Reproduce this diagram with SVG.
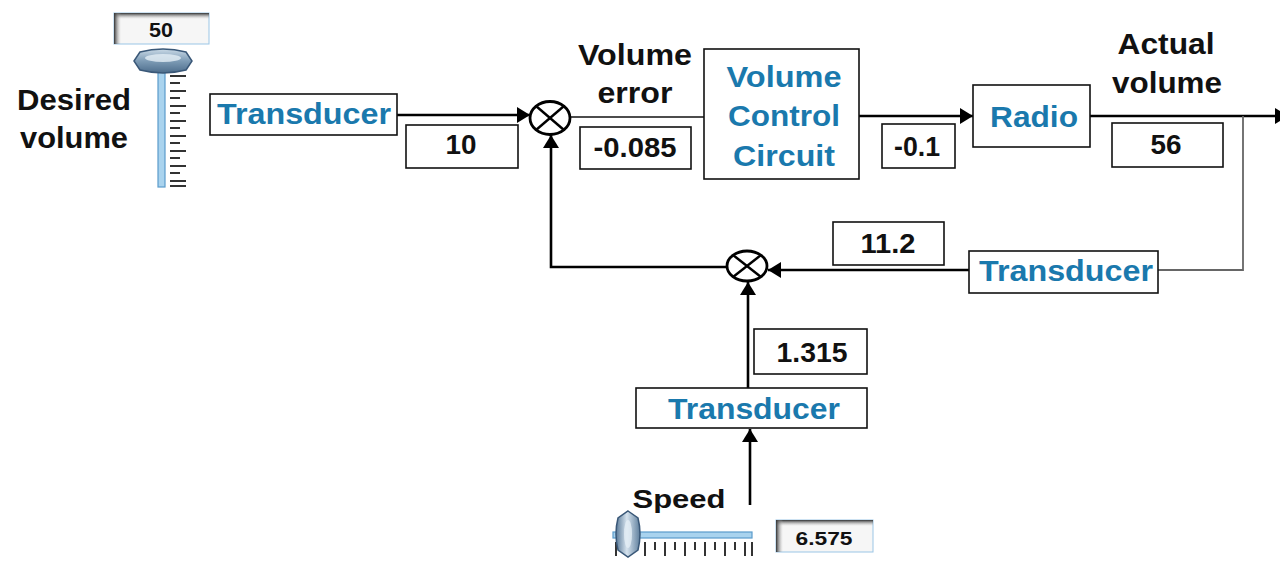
<svg xmlns="http://www.w3.org/2000/svg" width="1280" height="561" viewBox="0 0 1280 561">
<defs>
<style>
.box{fill:#fff;stroke:#111;stroke-width:1.6}
.lbl{font-family:"Liberation Sans",Arial,sans-serif;font-weight:bold;font-size:29px;fill:#1a79ad;text-anchor:middle}
.cap{font-family:"Liberation Sans",Arial,sans-serif;font-weight:bold;font-size:29px;fill:#111;text-anchor:middle}
.num{font-family:"Liberation Sans",Arial,sans-serif;font-weight:bold;font-size:27px;fill:#111;text-anchor:middle}
.sm{font-family:"Liberation Sans",Arial,sans-serif;font-weight:bold;font-size:21px;fill:#111;text-anchor:middle}
.wire{fill:none;stroke:#000;stroke-width:2.6}
.thin{fill:none;stroke:#111;stroke-width:1.6}
.gray{fill:none;stroke:#666;stroke-width:1.8}
.sum{fill:#fff;stroke:#000;stroke-width:2.8}
.tick{stroke:#333;stroke-width:2}
</style>
<marker id="ah" viewBox="0 0 13 16" refX="13" refY="8" markerWidth="13" markerHeight="16" markerUnits="userSpaceOnUse" orient="auto">
<path d="M0,0 L13,8 L0,16 Z" fill="#000"/>
</marker>
<linearGradient id="knobH" x1="0" y1="0" x2="0" y2="1">
<stop offset="0" stop-color="#c9d9e6"/>
<stop offset="0.5" stop-color="#7d9bb5"/>
<stop offset="1" stop-color="#4d6d8c"/>
</linearGradient>
<linearGradient id="knobV" x1="0" y1="0" x2="1" y2="0">
<stop offset="0" stop-color="#5a7a98"/>
<stop offset="0.45" stop-color="#d6e3ee"/>
<stop offset="1" stop-color="#5f7f9d"/>
</linearGradient>
<linearGradient id="shadeT" x1="0" y1="0" x2="0" y2="1">
<stop offset="0" stop-color="#333"/>
<stop offset="1" stop-color="#bbb" stop-opacity="0"/>
</linearGradient>
<linearGradient id="shadeL" x1="0" y1="0" x2="1" y2="0">
<stop offset="0" stop-color="#333"/>
<stop offset="1" stop-color="#bbb" stop-opacity="0"/>
</linearGradient>
</defs>
<rect width="1280" height="561" fill="#fff"/>

<g id="connectors">
<line class="wire" x1="397" y1="115" x2="530" y2="115" marker-end="url(#ah)"/>
<line class="thin" x1="570" y1="117" x2="704" y2="117"/>
<line class="wire" x1="859" y1="116" x2="973" y2="116" marker-end="url(#ah)"/>
<line class="wire" x1="1090" y1="116" x2="1288" y2="116" marker-end="url(#ah)"/>
<polyline class="gray" points="1243,116 1243,270 1158,270"/>
<line class="wire" x1="969" y1="270" x2="768" y2="270" marker-end="url(#ah)"/>
<polyline class="wire" points="727,267 551,267 551,135" marker-end="url(#ah)"/>
<line class="wire" x1="748" y1="388" x2="748" y2="282" marker-end="url(#ah)"/>
<line class="wire" x1="750" y1="505" x2="750" y2="429" marker-end="url(#ah)"/>
</g>

<g id="desired-volume-slider">
<rect x="114" y="13" width="95" height="31" fill="#f6f6f6" stroke="#9bc6e6" stroke-width="1"/>
<rect x="114" y="13" width="95" height="6" fill="url(#shadeT)"/>
<rect x="114" y="13" width="7" height="31" fill="url(#shadeL)"/>
<text class="sm" x="161" y="37" textLength="24" lengthAdjust="spacingAndGlyphs">50</text>
<rect x="158" y="68" width="7" height="119" fill="#a9d3ee" stroke="#5b9ccb" stroke-width="1.2"/>
<g>
<line class="tick" x1="170" y1="76" x2="186" y2="76"/>
<line class="tick" x1="170" y1="83" x2="180" y2="83"/>
<line class="tick" x1="170" y1="91" x2="186" y2="91"/>
<line class="tick" x1="170" y1="98" x2="180" y2="98"/>
<line class="tick" x1="170" y1="106" x2="186" y2="106"/>
<line class="tick" x1="170" y1="113" x2="180" y2="113"/>
<line class="tick" x1="170" y1="121" x2="186" y2="121"/>
<line class="tick" x1="170" y1="128" x2="180" y2="128"/>
<line class="tick" x1="170" y1="136" x2="186" y2="136"/>
<line class="tick" x1="170" y1="143" x2="180" y2="143"/>
<line class="tick" x1="170" y1="151" x2="186" y2="151"/>
<line class="tick" x1="170" y1="158" x2="180" y2="158"/>
<line class="tick" x1="170" y1="166" x2="186" y2="166"/>
<line class="tick" x1="170" y1="173" x2="180" y2="173"/>
<line class="tick" x1="170" y1="181" x2="186" y2="181"/>
<line class="tick" x1="170" y1="186" x2="186" y2="186"/>
</g>
<path d="M134,61 L140,52 Q163,46 186,52 L192,61 L186,70 Q163,76 140,70 Z" fill="url(#knobH)" stroke="#3a5878" stroke-width="1.5"/>
<ellipse cx="163" cy="58" rx="18" ry="4" fill="#e3edf5" opacity="0.8"/>
<text class="cap" x="74" y="110" textLength="114" lengthAdjust="spacingAndGlyphs">Desired</text>
<text class="cap" x="74" y="148" textLength="108" lengthAdjust="spacingAndGlyphs">volume</text>
</g>

<g id="transducer-in">
<rect class="box" x="210" y="94" width="187" height="41"/>
<text class="lbl" x="304" y="124" textLength="174" lengthAdjust="spacingAndGlyphs">Transducer</text>
</g>
<g id="val-10">
<rect class="box" x="406" y="125" width="112" height="43"/>
<text class="num" x="461" y="154" textLength="31" lengthAdjust="spacingAndGlyphs">10</text>
</g>

<g id="sum-main">
<ellipse class="sum" cx="550" cy="118" rx="20" ry="16.5"/>
<line x1="536" y1="106" x2="564" y2="130" stroke="#000" stroke-width="2.4"/>
<line x1="564" y1="106" x2="536" y2="130" stroke="#000" stroke-width="2.4"/>
</g>

<g id="volume-error">
<text class="cap" x="635" y="65" textLength="114" lengthAdjust="spacingAndGlyphs">Volume</text>
<text class="cap" x="635" y="103" textLength="75" lengthAdjust="spacingAndGlyphs">error</text>
<rect class="box" x="580" y="127" width="111" height="42"/>
<text class="num" x="635" y="157" textLength="83" lengthAdjust="spacingAndGlyphs">-0.085</text>
</g>

<g id="volume-control-circuit">
<rect class="box" x="704" y="49" width="155" height="130"/>
<text class="lbl" x="784" y="87" textLength="115" lengthAdjust="spacingAndGlyphs">Volume</text>
<text class="lbl" x="784" y="126" textLength="112" lengthAdjust="spacingAndGlyphs">Control</text>
<text class="lbl" x="784" y="166" textLength="102" lengthAdjust="spacingAndGlyphs">Circuit</text>
</g>
<g id="val-0.1">
<rect class="box" x="882" y="124" width="73" height="44"/>
<text class="num" x="917" y="156" textLength="46" lengthAdjust="spacingAndGlyphs">-0.1</text>
</g>

<g id="radio">
<rect class="box" x="973" y="85" width="117" height="62"/>
<text class="lbl" x="1034" y="127" textLength="88" lengthAdjust="spacingAndGlyphs">Radio</text>
</g>

<g id="actual-volume">
<text class="cap" x="1166" y="54" textLength="97" lengthAdjust="spacingAndGlyphs">Actual</text>
<text class="cap" x="1167" y="93" textLength="110" lengthAdjust="spacingAndGlyphs">volume</text>
<rect class="box" x="1112" y="123" width="111" height="44"/>
<text class="num" x="1166" y="154" textLength="31" lengthAdjust="spacingAndGlyphs">56</text>
</g>

<g id="transducer-fb">
<rect class="box" x="969" y="251" width="189" height="42"/>
<text class="lbl" x="1066" y="281" textLength="174" lengthAdjust="spacingAndGlyphs">Transducer</text>
</g>
<g id="val-11.2">
<rect class="box" x="833" y="222" width="111" height="43"/>
<text class="num" x="888" y="253" textLength="55" lengthAdjust="spacingAndGlyphs">11.2</text>
</g>

<g id="sum-fb">
<ellipse class="sum" cx="747" cy="266" rx="20" ry="15"/>
<line x1="733" y1="255" x2="761" y2="277" stroke="#000" stroke-width="2.4"/>
<line x1="761" y1="255" x2="733" y2="277" stroke="#000" stroke-width="2.4"/>
</g>

<g id="val-1.315">
<rect class="box" x="754" y="329" width="113" height="45"/>
<text class="num" x="812" y="362" textLength="71" lengthAdjust="spacingAndGlyphs">1.315</text>
</g>
<g id="transducer-speed">
<rect class="box" x="636" y="388" width="231" height="40"/>
<text class="lbl" x="754" y="419" textLength="172" lengthAdjust="spacingAndGlyphs">Transducer</text>
</g>

<g id="speed-slider">
<text class="cap" x="679" y="508" style="font-size:26px" textLength="93" lengthAdjust="spacingAndGlyphs">Speed</text>
<rect x="613" y="532" width="139" height="6" fill="#a9d3ee" stroke="#5b9ccb" stroke-width="1.2"/>
<g>
<line class="tick" x1="616" y1="542" x2="616" y2="556"/>
<line class="tick" x1="645" y1="542" x2="645" y2="556"/>
<line class="tick" x1="655" y1="542" x2="655" y2="550"/>
<line class="tick" x1="665" y1="542" x2="665" y2="556"/>
<line class="tick" x1="675" y1="542" x2="675" y2="550"/>
<line class="tick" x1="685" y1="542" x2="685" y2="556"/>
<line class="tick" x1="695" y1="542" x2="695" y2="550"/>
<line class="tick" x1="705" y1="542" x2="705" y2="556"/>
<line class="tick" x1="715" y1="542" x2="715" y2="550"/>
<line class="tick" x1="725" y1="542" x2="725" y2="556"/>
<line class="tick" x1="735" y1="542" x2="735" y2="550"/>
<line class="tick" x1="745" y1="542" x2="745" y2="556"/>
<line class="tick" x1="752" y1="542" x2="752" y2="556"/>
</g>
<path d="M628,511 L638,518 Q642,534 638,550 L628,557 L618,550 Q614,534 618,518 Z" fill="url(#knobV)" stroke="#3a5878" stroke-width="1.5"/>
<ellipse cx="628" cy="534" rx="4" ry="14" fill="#e3edf5" opacity="0.8"/>
<rect x="776" y="520" width="97" height="32" fill="#f6f6f6" stroke="#9bc6e6" stroke-width="1"/>
<rect x="776" y="520" width="97" height="6" fill="url(#shadeT)"/>
<rect x="776" y="520" width="7" height="32" fill="url(#shadeL)"/>
<text class="sm" x="824" y="545" style="font-size:19px" textLength="57" lengthAdjust="spacingAndGlyphs">6.575</text>
</g>
</svg>
